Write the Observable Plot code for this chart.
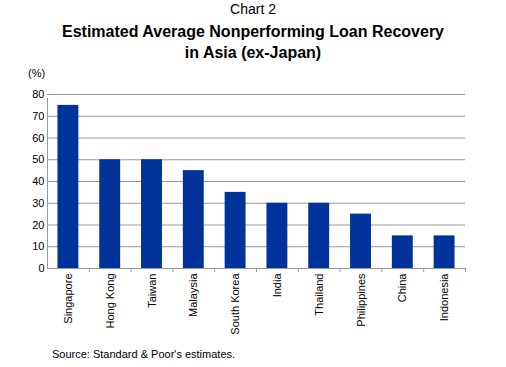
<!DOCTYPE html>
<html>
<head>
<meta charset="utf-8">
<script src="https://cdn.jsdelivr.net/npm/d3@7"></script>
<script src="https://cdn.jsdelivr.net/npm/@observablehq/plot@0.6"></script>
<style>
  html, body { margin: 0; padding: 0; background: #fff; }
  #wrap { position: relative; width: 506px; height: 367px; font-family: "Liberation Sans", Arial, sans-serif; color: #000; overflow: hidden; }
  .t { position: absolute; white-space: nowrap; }
  #chart { position: absolute; left: 0; top: 0; }
</style>
</head>
<body>
<div id="wrap">
  <div id="chart"></div>
  <div class="t" style="left:0;width:506px;text-align:center;top:1px;font-size:14px;">Chart 2</div>
  <div class="t" style="left:0;width:506px;text-align:center;top:21px;font-size:16px;font-weight:bold;line-height:21px;">Estimated Average Nonperforming Loan Recovery<br>in Asia (ex-Japan)</div>
  <div class="t" style="left:28px;top:67px;font-size:11px;">(%)</div>
  <div class="t" style="left:52px;top:348px;font-size:11px;">Source: Standard &amp; Poor's estimates.</div>
</div>
<script>
const countries = ["Singapore", "Hong Kong", "Taiwan", "Malaysia", "South Korea", "India", "Thailand", "Philippines", "China", "Indonesia"];
const recovery = [75, 50, 50, 45, 35, 30, 30, 25, 15, 15];
const yTicks = [0, 10, 20, 30, 40, 50, 60, 70, 80];

const data = countries.map((c, i) => ({country: c, value: recovery[i]}));

const W = 506, H = 367, mL = 47, mR = 41, mT = 94, mB = 99;
const step = (W - mL - mR) / countries.length;

const chart = Plot.plot({
  width: W,
  height: H,
  marginLeft: mL,
  marginRight: mR,
  marginTop: mT,
  marginBottom: mB,
  style: {fontFamily: "Liberation Sans, Arial, sans-serif", fontSize: "11px", color: "#000", background: "transparent"},
  x: {domain: countries, paddingInner: 0.5, paddingOuter: 0.25, align: 0.5, round: false, label: null},
  y: {domain: [0, 80], label: null},
  marks: [
    Plot.ruleY(yTicks, {stroke: "#999", strokeWidth: 1}),
    Plot.barY(data, {x: "country", y: "value", fill: "#003399"}),
    Plot.ruleX([countries[0]], {x: d => d, dx: -step / 2, y1: 0, y2: 80, stroke: "#999", insetBottom: -4}),
    Plot.ruleX(countries, {x: d => d, dx: step / 2, y1: 0, y2: 0, stroke: "#999", insetBottom: -4}),
    Plot.axisY({ticks: yTicks, tickSize: 0, tickPadding: 3, fill: "#000", fontSize: 11}),
    Plot.axisX({tickSize: 0, tickRotate: -90, tickPadding: 5, fill: "#000", fontSize: 11})
  ]
});
document.getElementById("chart").appendChild(chart);
</script>
</body>
</html>
